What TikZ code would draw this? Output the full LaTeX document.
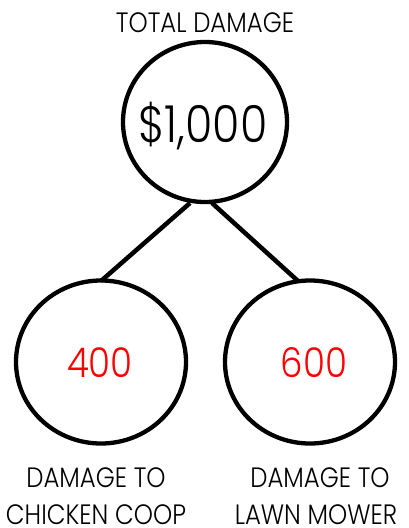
\documentclass[tikz,border=0pt]{standalone}
\usepackage{fontspec}
\setmainfont{Poppins Light}[FakeStretch=0.87]
\usetikzlibrary{shapes.geometric}
\begin{document}
\begin{tikzpicture}[x=1pt,y=-1pt,
  bubble/.style={draw=black,line width=4.3pt,ellipse,inner sep=0pt},
  link/.style={draw=black,line width=4.5pt},
  lbl/.style={anchor=base,inner sep=0pt,font=\fontsize{28}{30}\selectfont},
  num/.style={anchor=base,inner sep=0pt,text=red,font=\fontsize{41}{44}\selectfont}]
\useasboundingbox (0,0) rectangle (408,528);
\node[bubble,minimum width=164pt,minimum height=160pt] (top) at (205,122) {};
\node[bubble,minimum width=170pt,minimum height=163pt] (left) at (101,362) {};
\node[bubble,minimum width=170pt,minimum height=163pt] (right) at (310,362) {};
\coordinate (tl) at (190,203);
\coordinate (tr) at (212,203);
\coordinate (bl) at (101,281);
\coordinate (br) at (298,281);
\draw[link] (tl) -- (bl);
\draw[link] (tr) -- (br);
\node[lbl] (title) at (205,32) {TOTAL DAMAGE};
\node[anchor=base,inner sep=0pt,font=\fontsize{51}{54}\selectfont] (total) at (203,142) {\$1,000};
\node[num] (n1) at (100,377) {400};
\node[num] (n2) at (314,377) {600};
\node[lbl] (l1) at (96,487) {DAMAGE TO};
\node[lbl] (l2) at (96,524) {CHICKEN COOP};
\node[lbl] (r1) at (320,487) {DAMAGE TO};
\node[lbl] (r2) at (316,524) {LAWN MOWER};
\end{tikzpicture}
\end{document}
